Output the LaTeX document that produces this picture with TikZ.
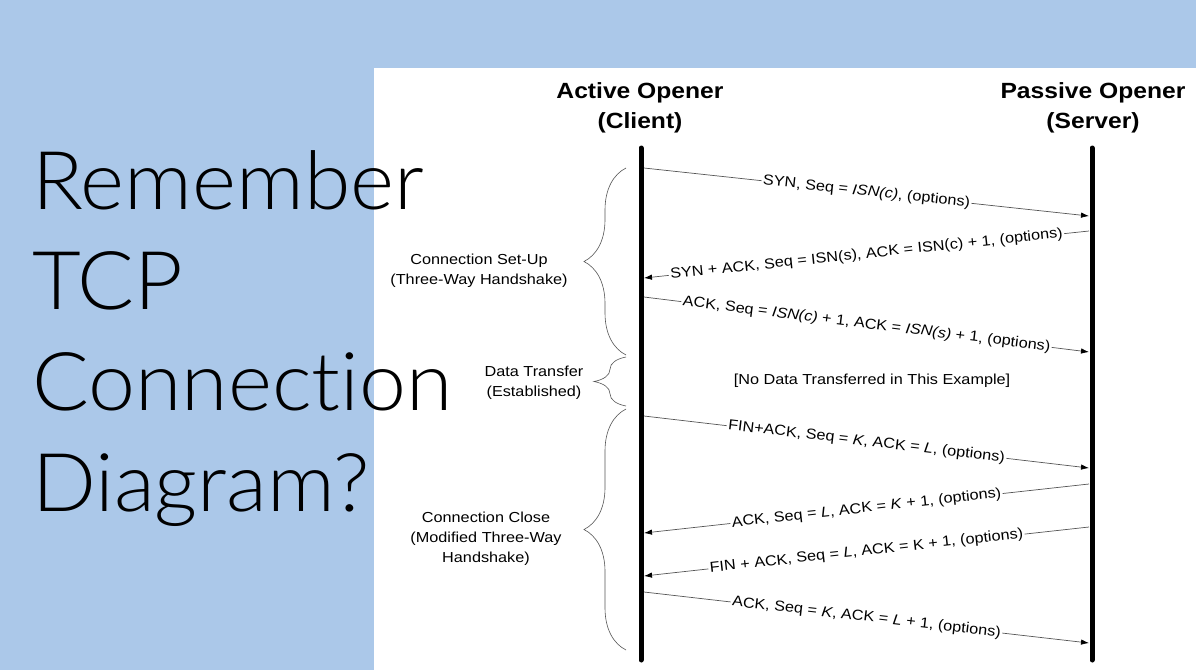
\documentclass[tikz,border=0pt]{standalone}
\usepackage{fontspec}
\setmainfont{Liberation Sans}[FakeStretch=1.12]
\newfontfamily\slidefont{Lato Light}[Ligatures=NoCommon, FakeStretch=1.04]
\usetikzlibrary{arrows.meta,decorations.pathreplacing}

\definecolor{slideblue}{RGB}{171,200,233}
\definecolor{wiregray}{RGB}{85,85,85}

\tikzset{
  header/.style={align=center, inner sep=0pt, font=\bfseries\fontsize{22}{30}\selectfont},
  lifeline/.style={line width=5pt, line cap=round},
  segment/.style={draw=wiregray, line width=0.7pt, -{Latex[length=8pt, width=5.5pt, black]}},
  seglabel/.style={midway, sloped, fill=white, text=black, inner sep=1.5pt, font=\fontsize{14.5}{17}\selectfont},
  phase/.style={draw=wiregray, line width=0.6pt, decorate, decoration={brace, amplitude=#1}},
  phaselabel/.style={align=center, inner sep=0pt, font=\fontsize{14.5}{20}\selectfont},
  slideline/.style={anchor=base west, inner sep=0pt, font=\slidefont\fontsize{81}{100}\selectfont},
}

\begin{document}
\begin{tikzpicture}[x=1pt, y=-1pt]
  % slide background and diagram panel
  \fill[slideblue] (0,0) rectangle (1196,670);
  \fill[white] (374,68) rectangle (1196,670);
  \useasboundingbox (0,0) rectangle (1196,670);

  % the two ends
  \node[header] (client) at (640,108) {Active Opener\\(Client)};
  \node[header] (server) at (1093,108) {Passive Opener\\(Server)};
  \coordinate (ctop) at (641,148);  \coordinate (cbot) at (641,660);
  \coordinate (stop) at (1092,148); \coordinate (sbot) at (1092,660);
  \draw[lifeline] (ctop) -- (cbot);
  \draw[lifeline] (stop) -- (sbot);

  % where the segments meet the lines
  \coordinate (c1) at (644,168);  \coordinate (s1) at (1089,216);
  \coordinate (s2) at (1089,231); \coordinate (c2) at (644,278);
  \coordinate (c3) at (644,297);  \coordinate (s3) at (1089,352);
  \coordinate (c4) at (644,416);  \coordinate (s4) at (1089,468);
  \coordinate (s5) at (1089,484); \coordinate (c5) at (644,533);
  \coordinate (s6) at (1089,527); \coordinate (c6) at (644,576);
  \coordinate (c7) at (644,592);  \coordinate (s7) at (1089,643);

  \draw[segment] (c1) -- node[seglabel] {SYN, Seq = \textit{ISN(c)}, (options)} (s1);
  \draw[segment] (s2) -- node[seglabel] {SYN + ACK, Seq = ISN(s), ACK = ISN(c) + 1, (options)} (c2);
  \draw[segment] (c3) -- node[seglabel] {ACK, Seq = \textit{ISN(c)} + 1, ACK = \textit{ISN(s)} + 1, (options)} (s3);
  \node[font=\fontsize{14.5}{17}\selectfont] (nodata) at (872,381) {[No Data Transferred in This Example]};
  \draw[segment] (c4) -- node[seglabel] {FIN+ACK, Seq = \textit{K}, ACK = \textit{L}, (options)} (s4);
  \draw[segment] (s5) -- node[seglabel] {ACK, Seq = \textit{L}, ACK = \textit{K} + 1, (options)} (c5);
  \draw[segment] (s6) -- node[seglabel] {FIN + ACK, Seq = \textit{L}, ACK = K + 1, (options)} (c6);
  \draw[segment] (c7) -- node[seglabel] {ACK, Seq = \textit{K}, ACK = \textit{L} + 1, (options)} (s7);

  % phases
  \draw[phase=42pt] (626,355) -- (626,168);
  \node[phaselabel] (setup) at (479,271) {Connection Set-Up\\(Three-Way Handshake)};
  \draw[phase=32pt] (626,406) -- (626,357);
  \node[phaselabel] (transfer) at (534,383) {Data Transfer\\(Established)};
  \draw[phase=42pt] (626,650) -- (626,409);
  \node[phaselabel] (close) at (486,539) {Connection Close\\(Modified Three-Way\\Handshake)};

  % slide title
  \node[slideline] (line1) at (32,209) {Remember};
  \node[slideline] (line2) at (32,309) {TCP};
  \node[slideline] (line3) at (32,410) {Connection};
  \node[slideline] (line4) at (32,511) {Diagram?};
\end{tikzpicture}
\end{document}
